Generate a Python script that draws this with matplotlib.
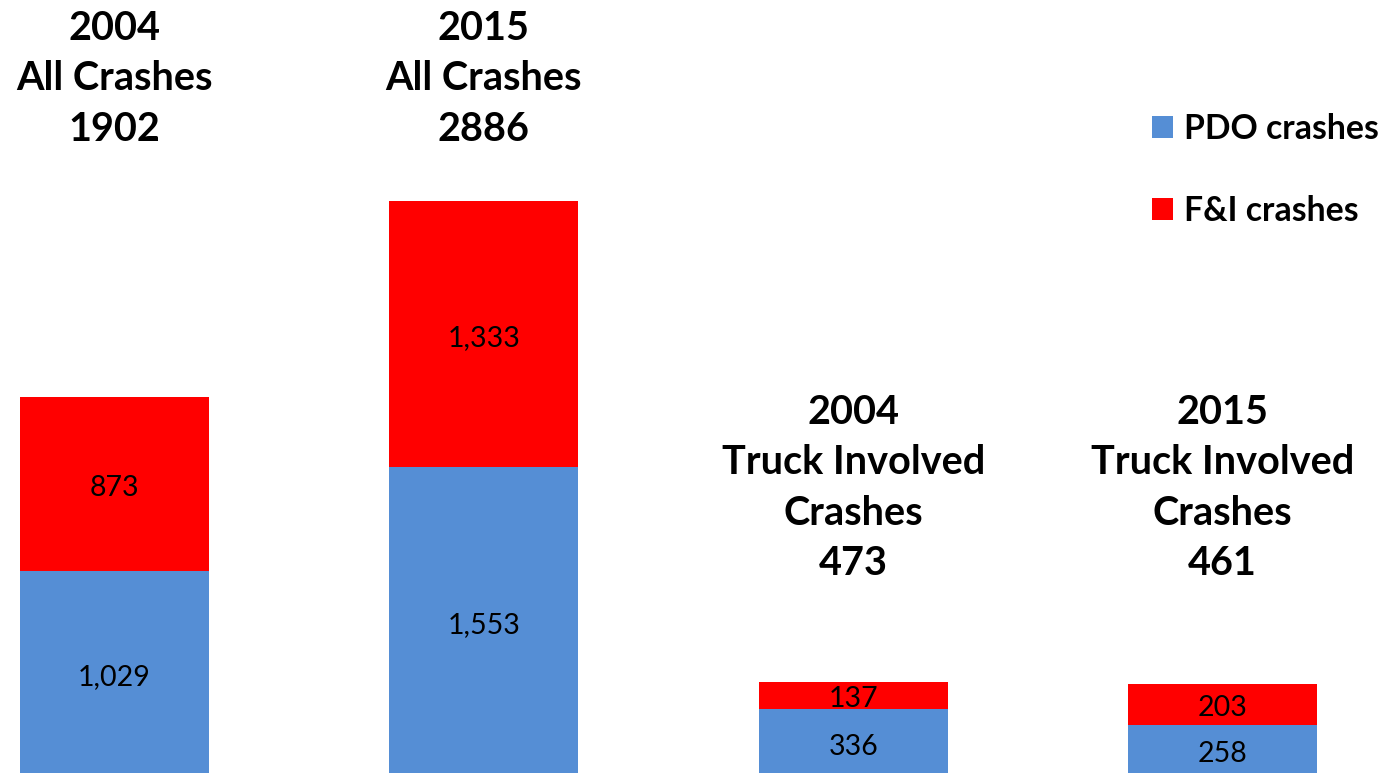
import matplotlib
matplotlib.use('Agg')
import matplotlib.pyplot as plt
import matplotlib.transforms as mtransforms

# data
groups = ['2004\nAll Crashes\n1902', '2015\nAll Crashes\n2886',
          '2004\nTruck Involved\nCrashes\n473', '2015\nTruck Involved\nCrashes\n461']
pdo = [1029, 1553, 336, 258]
fi = [873, 1333, 137, 203]
series_names = ['PDO crashes', 'F&I crashes']

blue = '#558ED5'
red = '#FF0000'

plt.rcParams['font.family'] = ['Lato', 'DejaVu Sans']

fig = plt.figure(figsize=(13.85, 7.73), dpi=100)
ax = fig.add_axes([0, 0, 1, 1])

x = list(range(len(groups)))
w = 0.5115
ax.bar(x, pdo, width=w, color=blue, label=series_names[0])
ax.bar(x, fi, width=w, bottom=pdo, color=red, label=series_names[1])

# value labels in the middle of each segment (nudged down a bit)
down = ax.transData + mtransforms.ScaledTranslation(0, -0.04, fig.dpi_scale_trans)
for xi, p, f in zip(x, pdo, fi):
    ax.text(xi, p / 2, f'{p:,}', ha='center', va='center', fontsize=20.5, transform=down)
    ax.text(xi, p + f / 2, f'{f:,}', ha='center', va='center', fontsize=20.5, transform=down)

# group titles above the bars
trans = mtransforms.blended_transform_factory(ax.transData, ax.transAxes)
title_y = [0.898, 0.898, 0.369, 0.369]
for xi, g, ty in zip(x, groups, title_y):
    ax.text(xi, ty, g, transform=trans, ha='center', va='center',
            fontsize=28.5, fontweight='bold', linespacing=1.45)

ax.set_xlim(-0.31, 3.44)
ax.set_ylim(15, 3896)
ax.axis('off')

ax.legend(loc='upper right', bbox_to_anchor=(1379 / 1385, 1 - 113 / 773), frameon=False,
          prop={'size': 24.3, 'weight': 'bold'}, handlelength=0.62, handleheight=0.62,
          handletextpad=0.32, labelspacing=1.47, borderaxespad=0, borderpad=0)

fig.savefig('out.png', dpi=100)
